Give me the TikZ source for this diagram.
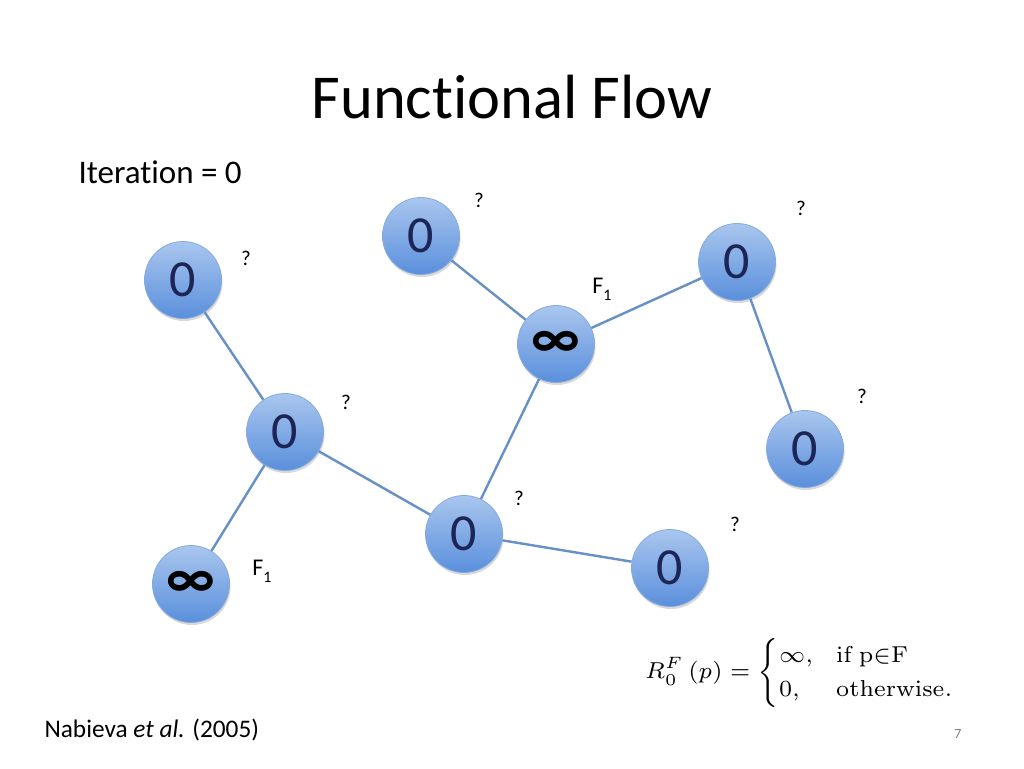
\documentclass[tikz,border=0pt]{standalone}
\usepackage{fix-cm}
\usepackage{amsmath}
\usepackage{graphicx}
\usepackage[no-math]{fontspec}
\setmainfont[Ligatures=NoCommon]{Carlito}
\usetikzlibrary{shadows}
\definecolor{nodetop}{HTML}{A9C6EE}
\definecolor{nodebot}{HTML}{5A8FDC}
\definecolor{nodeline}{HTML}{86AADD}
\definecolor{edgecol}{HTML}{6690C6}
\definecolor{zerocol}{HTML}{1C2556}
\newcommand{\fsub}[1]{F\raisebox{-7pt}{\fontsize{16}{16}\selectfont #1}}
\begin{document}
\begin{tikzpicture}[x=1pt,y=-1pt,
  vtx/.style={circle,minimum size=77pt,inner sep=0pt,draw=nodeline,line width=0.8pt,
    top color=nodetop,bottom color=nodebot,
    drop shadow={opacity=0.3,shadow xshift=1pt,shadow yshift=-2.5pt},
    font=\fontsize{52}{52}\selectfont,text=zerocol},
  infv/.style={vtx,font=\fontsize{58}{58}\selectfont\bfseries,text=black},
  edge/.style={draw=edgecol,line width=2.4pt},
  q/.style={font=\fontsize{21}{24}\selectfont,text=black},
  flab/.style={font=\fontsize{24}{26}\selectfont,text=black}]
\useasboundingbox (0,0) rectangle (1024,768);
\node[font=\fontsize{62.5}{70}\selectfont] (title) at (512,97) {Functional Flow};
\node[anchor=west,font=\fontsize{33}{36}\selectfont] (iter) at (75,172) {Iteration = 0};
% vertices
\node[vtx] (a) at (183,280) {0};
\node[vtx] (b) at (421,236) {0};
\node[vtx] (c) at (737,262) {0};
\node[infv] (d) at (556,344) {∞};
\node[vtx] (e) at (285,432) {0};
\node[vtx] (f) at (805,449) {0};
\node[vtx] (g) at (464,534) {0};
\node[vtx] (h) at (670,568) {0};
\node[infv] (i) at (191,584) {∞};
% edges
\draw[edge] (a) -- (e);
\draw[edge] (e) -- (i);
\draw[edge] (e) -- (g);
\draw[edge] (g) -- (d);
\draw[edge] (g) -- (h);
\draw[edge] (b) -- (d);
\draw[edge] (d) -- (c);
\draw[edge] (c) -- (f);
% labels
\node[q] (q1) at (246,258) {?};
\node[q] (q2) at (479,200) {?};
\node[q] (q3) at (801,208) {?};
\node[q] (q4) at (346,402) {?};
\node[q] (q5) at (862,396) {?};
\node[q] (q6) at (519,498) {?};
\node[q] (q7) at (735,524) {?};
\node[flab] (f1) at (602,289) {\fsub{1}};
\node[flab] (f2) at (262,571) {\fsub{1}};
% formula
\node[anchor=west,inner sep=0pt] (formula) at (645,673)
  {\resizebox{311pt}{!}{\fontsize{7}{8.5}\selectfont$R_0^F\left(p\right)=\begin{cases}\infty, & \mathrm{if\ p{\in}F}\\ 0, & \mathrm{otherwise.}\end{cases}$}};
\node[anchor=west,font=\fontsize{25.3}{28}\selectfont] (ref) at (41,730) {Nabieva \textit{et al.} (2005)};
\node[font=\fontsize{14}{16}\selectfont,text=gray] (pg) at (958,734) {7};
\end{tikzpicture}
\end{document}
